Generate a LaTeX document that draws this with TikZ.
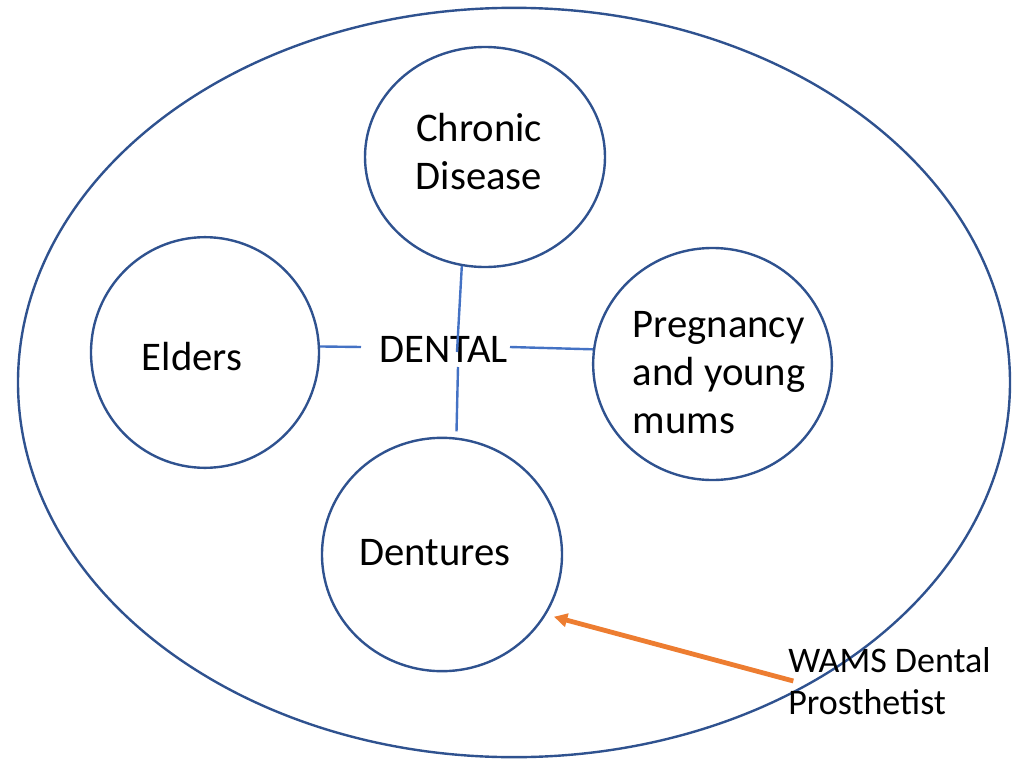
\documentclass[tikz,border=0pt]{standalone}
\usepackage{fontspec}
\setmainfont{Carlito}
\usepackage{tikz}
\usetikzlibrary{shapes.geometric, arrows.meta, positioning}
\definecolor{ringblue}{HTML}{2F528F}
\definecolor{linkblue}{HTML}{4472C4}
\definecolor{accent}{HTML}{ED7D31}
\tikzset{group/.style={ellipse,draw=ringblue,line width=1.8pt,inner sep=0pt},
         grouptext/.style={font=\fontsize{30.5}{36}\selectfont,align=left,inner sep=0pt},
         notetext/.style={font=\fontsize{27}{31}\selectfont,align=left,inner sep=0pt},
         link/.style={draw=linkblue,line width=1.8pt},
         pointer/.style={-{Triangle[length=10pt,width=10pt]},draw=accent,line width=3.6pt}}

\begin{document}
\begin{tikzpicture}[x=0.75pt,y=-0.75pt]
    \useasboundingbox (0,0) rectangle (1018,760);
    % outer ring and the four groups
    \node (setting) [group, minimum width=744pt, minimum height=562pt] at (514,382.5) {};
    \node (chronic) [group, minimum width=180pt, minimum height=165pt] at (485,157) {};
    \node (elders) [group, minimum width=171pt, minimum height=173pt] at (205,352.5) {};
    \node (pregnancy) [group, minimum width=179pt, minimum height=174pt] at (712.5,364) {};
    \node (dentures) [group, minimum width=180pt, minimum height=175pt] at (442,554.5) {};
    % texts
    \node (chronictext) [grouptext, align=center] at (479,152) {Chronic\\Disease};
    \node (elderstext) [grouptext] at (192,357) {Elders};
    \node (pregnancytext) [grouptext] at (719,373) {Pregnancy\\and young\\mums};
    \node (denturestext) [grouptext] at (435,553) {Dentures};
    \node (dental) [grouptext] at (443.5,349.5) {DENTAL};
    \node (wams) [notetext, anchor=west] at (788,681) {WAMS Dental\\Prosthetist};
    % spokes
    \coordinate (hubW) at (361,347);
    \coordinate (hubE) at (510,347);
    \coordinate (hubN) at (457,352);
    \coordinate (hubS) at (458,367);
    \draw[link] (elders.3) -- (hubW);
    \draw[link] (hubE) -- (pregnancy.173);
    \draw[link] (chronic.258) -- (hubN);
    \draw[link, shorten >=4.5pt] (hubS) -- (dentures.83);
    \draw[pointer, shorten >=6pt] ([xshift=4pt]wams.west) -- (dentures.-30);
\end{tikzpicture}
\end{document}
